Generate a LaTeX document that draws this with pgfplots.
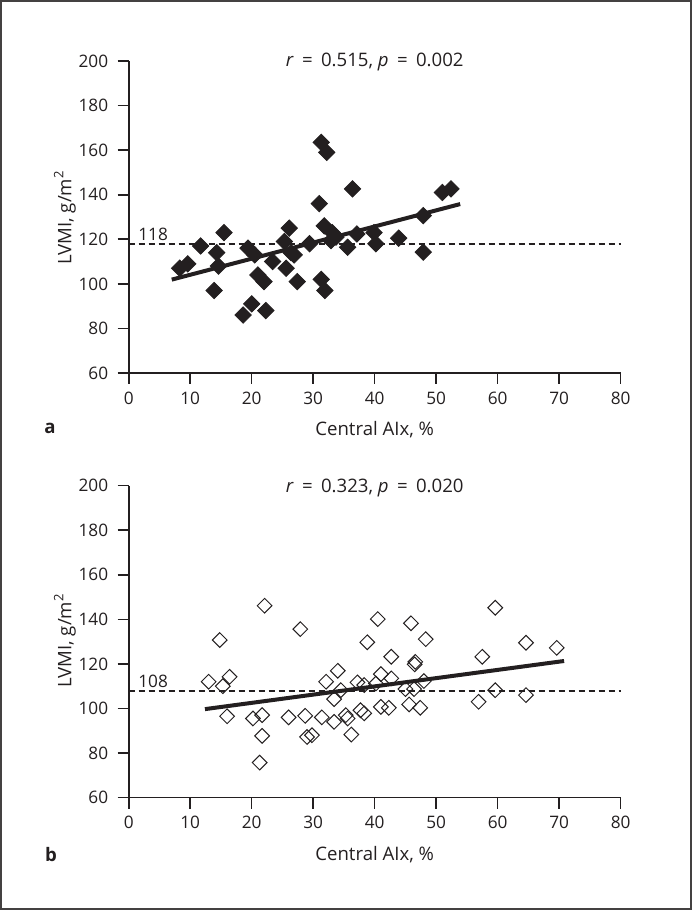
\documentclass[border=0pt]{standalone}
\usepackage{fontspec}
\setmainfont{Open Sans}
\usepackage{pgfplots}
\pgfplotsset{compat=1.18}
\definecolor{ink}{HTML}{231F20}
\newcommand{\fs}{\fontsize{9.3bp}{11bp}\selectfont}
\newcommand{\ft}{\fontsize{8.6bp}{10bp}\selectfont}
\newcommand{\eq}{\hspace{0.45em}=\hspace{0.45em}}
\begin{document}
\fs
\begin{tikzpicture}
\path[use as bounding box] (0,0) rectangle (346bp,455bp);
\draw[line width=1bp, color=ink!85] (0.5bp,0.5bp) rectangle (345.5bp,454.5bp);
\pgfplotsset{
  myaxis/.style={
    scale only axis, width=246bp, height=156bp,
    xmin=0, xmax=80, ymin=60, ymax=200,
    xtick={0,10,...,80}, ytick={60,80,...,200},
    axis lines=left, axis line style={-, line width=0.8bp, color=ink},
    tick align=outside, major tick length=5.5bp,
    every tick/.style={line width=0.8bp, color=ink},
    tick label style={font=\ft, color=ink},
    yticklabel style={xshift=-1.5bp},
    xticklabel style={yshift=-0.5bp},
    /pgf/number format/assume math mode=true,
    clip=false, anchor=south west,
  }
}
% ---------- panel a ----------
\begin{axis}[myaxis, at={(64.35bp,268.5bp)}]
\addplot[ink, line width=1bp, dash pattern=on 3bp off 2bp] coordinates {(0,118) (80,118)};
\addplot[ink, line width=2bp] coordinates {(7.0,101.9) (53.9,135.8)};
\addplot[only marks, mark=square*, mark size=2.9bp, mark options={rotate=45, fill=ink, draw=ink}] coordinates {
(8.3,107) (9.6,109) (11.7,117) (15.5,123) (14.3,114) (14.6,108) (13.9,97)
(19.4,116) (20.5,113) (21.0,104) (22.0,101) (20.0,91) (18.6,86) (22.3,88)
(23.4,110) (26.1,125) (25.3,119) (26.4,114) (26.9,113) (25.6,107) (27.4,101)
(29.4,118) (31.0,136) (31.3,163.5) (32.2,159) (36.4,142.6) (31.8,126)
(31.3,102) (31.9,97) (33.1,123) (33.7,121) (32.9,119.4) (35.6,116.4)
(37.1,122.4) (39.9,123) (40.2,118) (43.9,120.5) (47.9,130.6) (47.9,114.2)
(51.0,141) (52.4,142.6)
};
\node[anchor=base west, inner sep=0pt, font=\ft, color=ink] at (axis cs:1.5,119.6) {118};
\end{axis}
% ---------- panel b ----------
\begin{axis}[myaxis, at={(64.35bp,56.2bp)}]
\addplot[ink, line width=1bp, dash pattern=on 3bp off 2bp] coordinates {(0,108) (80,108)};
\addplot[only marks, mark=square, mark size=2.6bp, mark options={rotate=45, draw=ink, line width=0.5bp}] coordinates {
(13.0,112.0) (14.8,130.7) (15.3,110.0) (16.4,114.2) (16.0,96.5)
(20.2,95.5) (21.7,97.0) (21.7,87.7) (21.3,75.7) (22.1,146.1)
(26.0,96.0) (27.9,135.6) (28.7,96.7) (29.0,87.2) (29.8,88.0)
(31.4,96.0) (32.1,112.0) (33.4,94.0) (33.4,104.2) (34.0,116.9) (34.5,108.2)
(35.3,97.0) (35.6,95.5) (36.2,88.3) (37.2,111.7) (38.3,110.5) (37.7,99.2) (38.3,97.8)
(38.8,129.7) (40.5,140.1) (45.9,138.2) (48.3,131.1) (42.7,123.2) (46.6,120.9) (46.5,119.8)
(41.0,115.4) (42.7,113.5) (40.2,111.2) (48.0,112.3) (45.0,108.7) (46.4,108.7)
(41.0,100.7) (42.3,100.3) (45.6,101.8) (47.4,100.3)
(59.6,145.2) (64.6,129.5) (69.6,127.2) (57.5,123.2) (59.6,108.2) (56.9,103.0) (64.6,106.0)
};
\addplot[ink, line width=2bp] coordinates {(12.4,99.7) (70.8,121.3)};
\node[anchor=base west, inner sep=0pt, font=\ft, color=ink] at (axis cs:1.5,109.6) {108};
\end{axis}
% ---------- texts ----------
\node[font=\fs, color=ink] at (187.35bp,424bp) {\textit{r}\eq 0.515, \textit{p}\eq 0.002};
\node[font=\fs, color=ink] at (187.35bp,211bp) {\textit{r}\eq 0.323, \textit{p}\eq 0.020};
\node[font=\fs, color=ink] at (187.35bp,240bp) {Central AIx, \%};
\node[font=\fs, color=ink] at (187.35bp,27.5bp) {Central AIx, \%};
\node[font=\fs, color=ink, rotate=90] at (32.5bp,346bp) {LVMI, g/m\raisebox{0.8ex}{\fontsize{6.5bp}{7bp}\selectfont 2}};
\node[font=\fs, color=ink, rotate=90] at (32.5bp,134.5bp) {LVMI, g/m\raisebox{0.8ex}{\fontsize{6.5bp}{7bp}\selectfont 2}};
\node[font=\fs\bfseries, color=ink] at (25bp,241bp) {a};
\node[font=\fs\bfseries, color=ink] at (25.5bp,27.5bp) {b};
\end{tikzpicture}
\end{document}
